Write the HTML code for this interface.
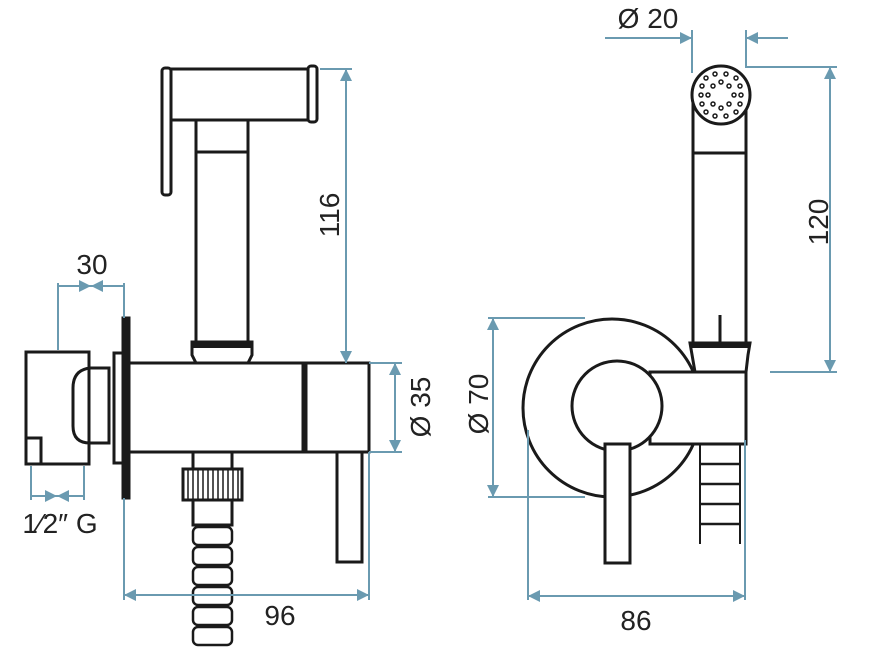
<!DOCTYPE html>
<html><head><style>html,body{margin:0;padding:0;background:#fff}svg{display:block}</style></head>
<body>
<svg width="872" height="653" viewBox="0 0 872 653" xmlns="http://www.w3.org/2000/svg" font-family="Liberation Sans, sans-serif">
<defs>
<marker id="a" viewBox="0 0 10 10" refX="10" refY="5" markerWidth="20" markerHeight="12" markerUnits="userSpaceOnUse" orient="auto-start-reverse"><path d="M0,0L10,5L0,10z" fill="#6a9ab0"/></marker>
</defs>
<g fill="none" stroke="#1a1a1a" stroke-width="3">
<rect x="164" y="69" width="147" height="51"/>
<rect x="162" y="68" width="9" height="127" rx="3" fill="#fff"/>
<rect x="308" y="66" width="9" height="56" rx="3" fill="#fff"/>
<rect x="196" y="120" width="52" height="222"/>
<line x1="196" y1="152" x2="248" y2="152"/>
<path d="M192,342 L252,342 L252,355 L248,363 L196,363 L192,355z" stroke-width="3"/>
<line x1="192" y1="345" x2="252" y2="345" stroke-width="6"/>
<rect x="128" y="363" width="175" height="89"/>
<rect x="306" y="363" width="63" height="89"/>
<rect x="123" y="318" width="6" height="180" fill="#1a1a1a"/>
<rect x="114" y="353" width="9" height="110"/>
<path d="M109,368 L90,368 Q73,370 73,388 L73,426 Q73,443 90,443 L109,443 Z"/>
<rect x="26" y="352" width="63" height="112"/>
<rect x="26" y="438" width="15" height="26"/>
<rect x="193" y="452" width="39" height="17"/>
<rect x="183" y="469" width="59" height="31"/>
<g stroke-width="1.5"><path d="M188,469v31M193,469v31M198,469v31M203,469v31M208,469v31M213,469v31M218,469v31M223,469v31M228,469v31M233,469v31M238,469v31"/></g>
<rect x="193" y="500" width="39" height="25"/>
<g stroke-width="2.5">
<rect x="193" y="527" width="39" height="18" rx="5"/>
<rect x="193" y="547" width="39" height="18" rx="5"/>
<rect x="193" y="567" width="39" height="18" rx="5"/>
<rect x="193" y="587" width="39" height="18" rx="5"/>
<rect x="193" y="607" width="39" height="18" rx="5"/>
<rect x="193" y="627" width="39" height="18" rx="5"/>
</g>
<rect x="337" y="452" width="25" height="110"/>
<circle cx="612" cy="408" r="89"/>
<rect x="650" y="372" width="96" height="72" fill="#fff"/>
<circle cx="617" cy="406" r="45" fill="#fff"/>
<rect x="605" y="444" width="25" height="119" fill="#fff"/>
<rect x="693" y="95" width="53" height="250" fill="#fff"/>
<line x1="693" y1="153" x2="746" y2="153"/>
<line x1="720" y1="315" x2="720" y2="372"/>
<path d="M690,343 L750,343 L748,355 L746,372 L695,372 Z" fill="#fff"/>
<line x1="690" y1="345" x2="750" y2="345" stroke-width="6"/>
<circle cx="721" cy="95" r="29" fill="#fff"/>
<g stroke-width="2"><path d="M700,444v100M740,444v100"/></g>
<g stroke-width="2.5"><path d="M700,464h40M700,484h40M700,504h40M700,524h40"/></g>
</g>
<g fill="none" stroke="#1a1a1a" stroke-width="1.5">
<circle cx="715" cy="74" r="2"/><circle cx="726" cy="74" r="2"/>
<circle cx="706" cy="78" r="2"/><circle cx="736" cy="78" r="2"/>
<circle cx="721" cy="82" r="2"/><circle cx="713" cy="86" r="2"/><circle cx="729" cy="86" r="2"/>
<circle cx="702" cy="86" r="2"/><circle cx="740" cy="86" r="2"/>
<circle cx="701" cy="95" r="2"/><circle cx="708" cy="95" r="2"/><circle cx="734" cy="95" r="2"/><circle cx="741" cy="95" r="2"/>
<circle cx="713" cy="104" r="2"/><circle cx="729" cy="104" r="2"/><circle cx="702" cy="104" r="2"/><circle cx="740" cy="104" r="2"/>
<circle cx="721" cy="108" r="2"/>
<circle cx="706" cy="112" r="2"/><circle cx="736" cy="112" r="2"/>
<circle cx="715" cy="116" r="2"/><circle cx="726" cy="116" r="2"/>
</g>
<g stroke="#6a9ab0" stroke-width="2" fill="none">
<path d="M58,350V283M124,318V283"/>
<line x1="58" y1="286" x2="91" y2="286" marker-end="url(#a)"/>
<line x1="124" y1="286" x2="91" y2="286" marker-end="url(#a)"/>
<path d="M31,466V500M84,466V500"/>
<line x1="31" y1="496" x2="57" y2="496" marker-end="url(#a)"/>
<line x1="84" y1="496" x2="57" y2="496" marker-end="url(#a)"/>
<path d="M124,498V600M369,452V600"/>
<line x1="246" y1="595" x2="124" y2="595" marker-end="url(#a)"/>
<line x1="246" y1="595" x2="369" y2="595" marker-end="url(#a)"/>
<path d="M320,69H352"/>
<line x1="346" y1="215" x2="346" y2="69" marker-end="url(#a)"/>
<line x1="346" y1="215" x2="346" y2="363" marker-end="url(#a)"/>
<path d="M369,363H402M369,452H402"/>
<line x1="395" y1="407" x2="395" y2="363" marker-end="url(#a)"/>
<line x1="395" y1="407" x2="395" y2="452" marker-end="url(#a)"/>
<path d="M488,318H585M488,497H585M528,430V600M745,440V600"/>
<line x1="493" y1="407" x2="493" y2="318" marker-end="url(#a)"/>
<line x1="493" y1="407" x2="493" y2="497" marker-end="url(#a)"/>
<line x1="636" y1="596" x2="528" y2="596" marker-end="url(#a)"/>
<line x1="636" y1="596" x2="745" y2="596" marker-end="url(#a)"/>
<path d="M745,67H837M770,372H837"/>
<line x1="830" y1="220" x2="830" y2="67" marker-end="url(#a)"/>
<line x1="830" y1="220" x2="830" y2="372" marker-end="url(#a)"/>
<path d="M692,30V73M746,30V66"/>
<line x1="605" y1="38" x2="692" y2="38" marker-end="url(#a)"/>
<line x1="788" y1="38" x2="746" y2="38" marker-end="url(#a)"/>
</g>
<g fill="#222" font-size="28">
<text x="92" y="274" text-anchor="middle">30</text>
<text x="60" y="533" text-anchor="middle">1⁄2″ G</text>
<text x="280" y="625" text-anchor="middle">96</text>
<text x="636" y="630" text-anchor="middle">86</text>
<text x="648" y="28" text-anchor="middle">Ø 20</text>
<text transform="translate(339,215) rotate(-90)" text-anchor="middle">116</text>
<text transform="translate(430,407) rotate(-90)" text-anchor="middle">Ø 35</text>
<text transform="translate(488,404) rotate(-90)" text-anchor="middle">Ø 70</text>
<text transform="translate(828,222) rotate(-90)" text-anchor="middle">120</text>
</g>
</svg>
</body></html>
